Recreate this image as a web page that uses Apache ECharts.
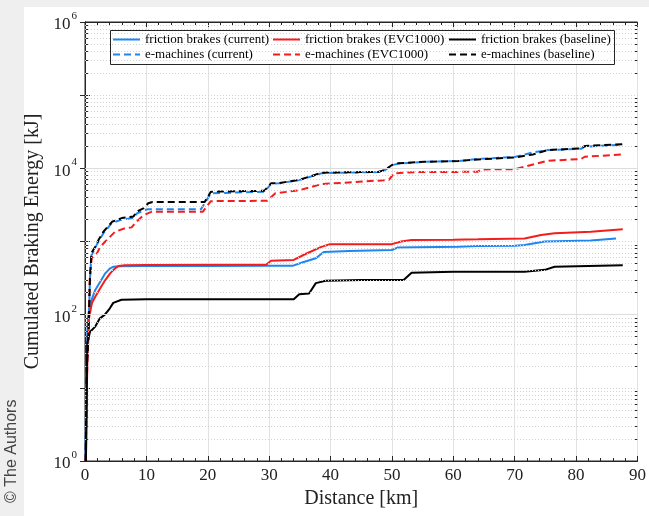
<!DOCTYPE html>
<html>
<head>
<meta charset="utf-8">
<script src="https://cdn.jsdelivr.net/npm/echarts@6/dist/echarts.min.js"></script>
<style>
html,body{margin:0;padding:0;background:#fff;}
#chart{width:649px;height:516px;}
</style>
</head>
<body>
<div id="chart"></div>
<script>
// ---- data (distance in km, cumulated braking energy in kJ) ----
var fbCurrentKm  = [0.1, 0.2, 0.35, 0.5, 0.86, 1.67, 2.48, 3.3, 4.1, 4.65, 5.5, 10, 20, 30, 33.8, 35.5, 37.6, 38.9, 43, 50, 51, 60.8, 64, 70, 71.6, 74.9, 82.4, 86.5];
var fbCurrentKJ  = [1, 10, 50, 90, 143, 218, 282, 367, 430, 453, 460, 462, 463, 465, 465, 520, 590, 720, 740, 765, 830, 850, 870, 875, 895, 1000, 1030, 1100];

var emCurrentKm  = [0.1, 0.2, 0.3, 0.55, 0.8, 1.05, 1.68, 2.2, 3.0, 4.4, 6.0, 7.9, 8.4, 9.5, 10.3, 18.9, 20.5, 29.2, 30.3, 31.6, 34.9, 38.6, 47.8, 48.9, 50, 51, 55.4, 60.8, 64, 70, 73, 75.4, 80.8, 81.4, 87.6];
var emCurrentKJ  = [1, 5, 20, 45, 300, 650, 820, 1000, 1300, 1800, 2000, 2100, 2400, 2650, 2770, 2770, 4550, 4800, 6100, 6240, 6900, 8600, 8900, 9500, 11000, 11600, 12300, 12600, 13400, 14300, 16500, 17800, 18500, 19800, 21000];

var fbEvcKm      = [0.15, 0.3, 0.45, 0.6, 1.13, 1.67, 2.48, 3.3, 4.1, 4.9, 5.46, 6.5, 10, 20, 29.5, 30.3, 34, 36, 38.6, 39.9, 50, 51.5, 53.2, 60, 64, 71.6, 74.3, 76.5, 82.4, 87.6];
var fbEvcKJ      = [1, 10, 40, 85, 144, 176, 229, 297, 367, 430, 462, 475, 478, 480, 482, 545, 560, 680, 850, 915, 920, 1000, 1050, 1060, 1070, 1100, 1230, 1300, 1360, 1470];

var emEvcKm      = [0.1, 0.25, 0.4, 0.6, 0.8, 1.1, 1.95, 2.5, 3.3, 4.9, 6.5, 7.6, 8.4, 9.5, 10.9, 19.2, 20.5, 29.7, 31, 34.9, 38.6, 49.5, 50.3, 54.3, 60.8, 64, 64.6, 70, 71.6, 75.4, 80.8, 81.4, 87.6];
var emEvcKJ      = [1, 5, 30, 100, 350, 595, 690, 850, 1000, 1360, 1520, 1560, 1870, 2280, 2560, 2560, 3560, 3600, 4550, 5020, 6100, 6940, 8520, 8940, 8940, 9000, 9670, 9700, 10500, 12700, 13400, 14400, 15500];

var fbBaseKm     = [0.15, 0.25, 0.32, 0.37, 0.81, 1.62, 2.43, 3.24, 4.05, 4.6, 5.95, 10, 20, 30, 34, 34.9, 36.5, 37.6, 39.2, 45, 51.9, 53.2, 60, 64, 71.6, 71.9, 74.9, 76.5, 87.6];
var fbBaseKJ     = [1, 5, 20, 41, 58, 68, 89, 100, 122, 145, 160, 163, 163, 163, 163, 190, 195, 270, 290, 297, 297, 375, 386, 386, 386, 407, 410, 452, 473];

var emBaseKm     = [0.1, 0.2, 0.3, 0.55, 0.8, 1.05, 1.68, 2.2, 3.0, 4.4, 6.0, 7.9, 8.4, 9.5, 10.3, 11, 19.5, 20.5, 29.2, 30.3, 31.6, 34.9, 38.6, 47.8, 48.9, 50, 51, 55.4, 60.8, 64, 70, 73, 75.4, 80.8, 81.4, 87.6];
var emBaseKJ     = [1, 5, 20, 45, 300, 700, 850, 1050, 1360, 1860, 2090, 2200, 2560, 2830, 3330, 3470, 3470, 4790, 4930, 6240, 6300, 6940, 8720, 8940, 9520, 11100, 11700, 12300, 12600, 13200, 14100, 15500, 17800, 18700, 20200, 21400];

var seriesNames = [
  'friction brakes (current)', 'e-machines (current)',
  'friction brakes (EVC1000)', 'e-machines (EVC1000)',
  'friction brakes (baseline)', 'e-machines (baseline)'
];
var xTickValues = [0, 10, 20, 30, 40, 50, 60, 70, 80, 90];
var yLabelExponents = [0, 2, 4, 6];

function pairs(xs, ys) { return xs.map(function (x, i) { return [x, ys[i]]; }); }

var BLUE = '#1f86ef', RED = '#f41d1d', BLACK = '#000000';
var SERIF = '"Liberation Serif","Times New Roman",serif';
var DASH = [7, 4];

// grid lines / minor ticks for the log axis (positions resolved by the axis scale)
var minorGrid = [], majorGrid = [], minorTickVals = [];
for (var e = 0; e < 6; e++) {
  for (var m = 2; m <= 9; m++) { minorGrid.push(m * Math.pow(10, e)); minorTickVals.push(m * Math.pow(10, e)); }
  if (e % 2 === 1) minorGrid.push(Math.pow(10, e));
  else if (e > 0) majorGrid.push(Math.pow(10, e));
}
var gridMarkData = minorGrid.map(function (v) {
  return { yAxis: v, lineStyle: { color: '#d2d2d2', type: [1, 2], width: 1 } };
}).concat(majorGrid.map(function (v) {
  return { yAxis: v, lineStyle: { color: '#dcdcdc', type: 'solid', width: 1 } };
}));
var tickMarkData = [];
minorTickVals.forEach(function (v) {
  tickMarkData.push([{ coord: [0, v] }, { coord: [0.5, v] }]);
  tickMarkData.push([{ coord: [89.5, v] }, { coord: [90, v] }]);
});

function mk(name, xs, ys, color, dashed, offset) {
  return {
    name: name, type: 'line', data: pairs(xs, ys),
    symbol: 'none', showSymbol: false, animation: false,
    lineStyle: { color: color, width: 2, type: dashed ? DASH : 'solid', dashOffset: offset || 0 },
    itemStyle: { color: color },
    z: 3
  };
}

var series = [
  mk(seriesNames[0], fbCurrentKm, fbCurrentKJ, BLUE, false),
  mk(seriesNames[1], emCurrentKm, emCurrentKJ, BLUE, true, 5),
  mk(seriesNames[2], fbEvcKm, fbEvcKJ, RED, false),
  mk(seriesNames[3], emEvcKm, emEvcKJ, RED, true),
  mk(seriesNames[4], fbBaseKm, fbBaseKJ, BLACK, false),
  mk(seriesNames[5], emBaseKm, emBaseKJ, BLACK, true)
];
// helper series carrying the horizontal grid lines and minor ticks
series.unshift({
  type: 'line', data: [], silent: true, z: 1,
  markLine: { silent: true, symbol: ['none', 'none'], label: { show: false }, animation: false, data: gridMarkData }
});
series.unshift({
  type: 'line', data: [], silent: true, z: 4,
  markLine: { silent: true, symbol: ['none', 'none'], label: { show: false }, animation: false,
    lineStyle: { color: '#262626', type: 'solid', width: 1 }, data: tickMarkData }
});

var yLabelFmt = function (v) {
  var ex = Math.round(Math.log10(v));
  return yLabelExponents.indexOf(ex) >= 0 ? '{b|10}{s|' + ex + '}' : '';
};

function legendFor(names, left) {
  return {
    data: names, orient: 'vertical', left: left, top: 32,
    itemWidth: 27, itemHeight: 10, itemGap: 0, padding: 0,
    itemStyle: { opacity: 0 },
    lineStyle: { width: 2, dashOffset: 0 },
    textStyle: { fontFamily: SERIF, fontSize: 13, color: '#000', lineHeight: 15 },
    selectedMode: false, z: 6
  };
}

var option = {
  backgroundColor: '#ffffff',
  animation: false,
  grid: { left: 85, right: 9, top: 22, bottom: 55, show: true, borderColor: '#262626', borderWidth: 1, backgroundColor: 'transparent' },
  legend: [
    legendFor([seriesNames[0], seriesNames[1]], 112),
    legendFor([seriesNames[2], seriesNames[3]], 272),
    legendFor([seriesNames[4], seriesNames[5]], 448)
  ],
  xAxis: [{
    type: 'value', min: 0, max: 90, interval: 10,
    name: 'Distance [km]', nameLocation: 'middle', nameGap: 27,
    nameTextStyle: { fontFamily: SERIF, fontSize: 20, color: '#222', verticalAlign: 'top' },
    axisLine: { show: true, lineStyle: { color: '#262626' } },
    axisTick: { show: true, inside: true, length: 5, lineStyle: { color: '#262626' } },
    minorTick: { show: true, splitNumber: 5, length: 3, lineStyle: { color: '#262626' } },
    axisLabel: { fontFamily: SERIF, fontSize: 17, color: '#222', margin: 6,
      formatter: function (v) { return xTickValues.indexOf(v) >= 0 ? String(v) : ''; } },
    splitLine: { show: true, lineStyle: { color: '#e2e2e2', width: 1 } }
  }, {
    type: 'value', min: 0, max: 90, interval: 10, position: 'top',
    axisLine: { show: true, lineStyle: { color: '#262626' } },
    axisTick: { show: true, inside: true, length: 5, lineStyle: { color: '#262626' } },
    minorTick: { show: true, splitNumber: 5, length: 3, lineStyle: { color: '#262626' } },
    axisLabel: { show: false }, splitLine: { show: false }
  }],
  yAxis: [{
    type: 'log', logBase: 10, min: 1, max: 1000000,
    name: 'Cumulated Braking Energy [kJ]', nameLocation: 'middle', nameGap: 35,
    nameTextStyle: { fontFamily: SERIF, fontSize: 20, color: '#222' },
    axisLine: { show: true, lineStyle: { color: '#262626' } },
    axisTick: { show: true, inside: true, length: 5, lineStyle: { color: '#262626' } },
    axisLabel: {
      margin: 8, formatter: yLabelFmt,
      rich: {
        b: { fontFamily: SERIF, fontSize: 17, color: '#222', padding: [6, 1, 0, 0] },
        s: { fontFamily: SERIF, fontSize: 11, color: '#222', verticalAlign: 'top', padding: [0, 0, 8, 0] }
      }
    },
    splitLine: { show: false }
  }, {
    type: 'log', logBase: 10, min: 1, max: 1000000, position: 'right',
    axisLine: { show: true, lineStyle: { color: '#262626' } },
    axisTick: { show: true, inside: true, length: 5, lineStyle: { color: '#262626' } },
    axisLabel: { show: false }, splitLine: { show: false }
  }],
  graphic: [
    { type: 'rect', z: -10, shape: { x: 0, y: 0, width: 649, height: 7 }, style: { fill: '#efefef' } },
    { type: 'rect', z: -10, shape: { x: 0, y: 0, width: 24, height: 516 }, style: { fill: '#efefef' } },
    { type: 'rect', z: 5, shape: { x: 110.5, y: 30.5, width: 504, height: 34 }, style: { fill: '#ffffff', stroke: '#262626', lineWidth: 1 } },
    { type: 'text', z: 5, x: 12, y: 503, rotation: Math.PI / 2,
      style: { text: '© The Authors', fontFamily: '"Liberation Sans",Arial,sans-serif', fontSize: 16, fill: '#444', textVerticalAlign: 'middle', textAlign: 'left' } }
  ],
  series: series
};

var chart = echarts.init(document.getElementById('chart'), null, { renderer: 'canvas' });
chart.setOption(option);
</script>
</body>
</html>
